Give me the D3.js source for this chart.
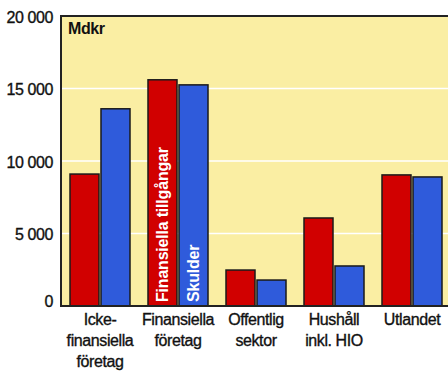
<!DOCTYPE html>
<html><head><meta charset="utf-8">
<script src="https://cdn.jsdelivr.net/npm/d3@7"></script>
<style>html,body{margin:0;padding:0;background:#fff;overflow:hidden}text{font-family:"Liberation Sans",Arial,sans-serif}</style>
</head><body><svg id="c" width="448" height="371"></svg>
<script>
const categories = [["Icke-","finansiella","företag"],["Finansiella","företag"],["Offentlig","sektor"],["Hushåll","inkl. HIO"],["Utlandet"]];
const series = ["Finansiella tillgångar","Skulder"];
const tillgangar = [9100, 15600, 2480, 6070, 9040];
const skulder = [13600, 15250, 1790, 2760, 8900];
const yTicks = [0, 5000, 10000, 15000, 20000];
const colors = ["#d10000","#2f5bdb"];
const unit = "Mdkr";

const svg = d3.select("#c");
const L = 61, R = 451, T = 16, B = 306;
const catIdx = d3.range(categories.length);
const x0 = d3.scaleBand().domain(catIdx).range([L, R]);
const x1 = d3.scaleBand().domain(series).range([9, 69]).paddingInner(0.0645);
const y = d3.scaleLinear().domain([0, 20000]).range([B, T]);
const fmt = v => d3.format(",")(v).replace(/,/g, " ");

svg.append("rect").attr("x", L).attr("y", T).attr("width", R - L).attr("height", B - T).attr("fill", "#faeea3");

svg.append("g").selectAll("line").data(yTicks.filter(t => t > 0 && t < 20000)).join("line")
  .attr("x1", L).attr("x2", R).attr("y1", d => y(d)).attr("y2", d => y(d))
  .attr("stroke", "#fff").attr("stroke-width", 1.5);

const vals = [tillgangar, skulder];
const g = svg.append("g");
series.forEach((s, si) => {
  g.selectAll("rect.s" + si).data(vals[si]).join("rect")
    .attr("x", (d, i) => x0(i) + x1(s))
    .attr("y", d => y(d))
    .attr("width", x1.bandwidth())
    .attr("height", d => B - y(d))
    .attr("fill", colors[si]).attr("stroke", "#1a1a1a").attr("stroke-width", 1.5);
});

// in-bar labels on Finansiella företag group
series.forEach((s, si) => {
  const cx = x0(1) + x1(s) + x1.bandwidth() / 2 + 5.5;
  svg.append("text").attr("transform", `translate(${cx},${B - 4}) rotate(-90)`)
    .attr("fill", "#fff").attr("font-weight", "bold").attr("font-size", 16).attr("letter-spacing", -0.2)
    .text(s);
});

// axes lines
svg.append("line").attr("x1", L).attr("x2", R).attr("y1", T).attr("y2", T).attr("stroke", "#222").attr("stroke-width", 2);
svg.append("line").attr("x1", L).attr("x2", L).attr("y1", T - 1).attr("y2", B + 1).attr("stroke", "#222").attr("stroke-width", 2);
svg.append("line").attr("x1", L - 1).attr("x2", R).attr("y1", B).attr("y2", B).attr("stroke", "#222").attr("stroke-width", 2);

// y tick labels
svg.append("g").selectAll("text").data(yTicks).join("text")
  .attr("x", 53).attr("y", d => d === 0 ? y(d) + 1 : y(d) + 6.5).attr("text-anchor", "end")
  .attr("font-size", 16).attr("fill", "#111").attr("stroke", "#111").attr("stroke-width", 0.35)
  .attr("letter-spacing", -0.4)
  .text(d => fmt(d));

svg.append("text").attr("x", 68).attr("y", 34).attr("font-size", 16).attr("font-weight", "bold")
  .attr("fill", "#111").attr("letter-spacing", -0.4).text(unit);

// category labels
const cl = svg.append("g").selectAll("text").data(categories).join("text")
  .attr("text-anchor", "middle").attr("font-size", 16).attr("fill", "#111")
  .attr("stroke", "#111").attr("stroke-width", 0.35).attr("letter-spacing", -0.4)
  .attr("x", (d, i) => x0(i) + x0.bandwidth() / 2).attr("y", 325);
cl.selectAll("tspan").data(d => d).join("tspan")
  .attr("x", function () { return d3.select(this.parentNode).attr("x"); })
  .attr("dy", (d, i) => i === 0 ? 0 : 21).text(d => d);
</script></body></html>
